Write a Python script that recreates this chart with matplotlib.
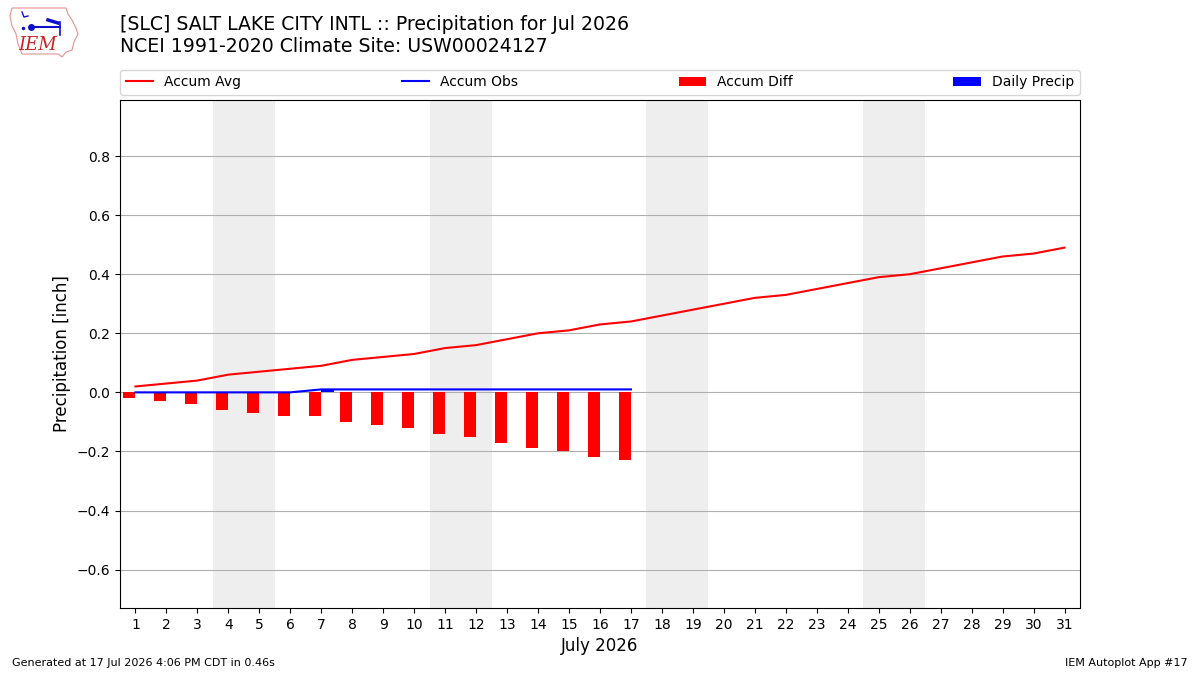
import matplotlib
matplotlib.use("Agg")
import matplotlib.pyplot as plt
from matplotlib.patches import Polygon

days = list(range(1, 32))
accum_avg = [0.02, 0.03, 0.04, 0.06, 0.07, 0.08, 0.09, 0.11, 0.12, 0.13,
             0.15, 0.16, 0.18, 0.20, 0.21, 0.23, 0.24, 0.26, 0.28, 0.30,
             0.32, 0.33, 0.35, 0.37, 0.39, 0.40, 0.42, 0.44, 0.46, 0.47, 0.49]
obs_days = list(range(1, 18))
accum_obs = [0.0, 0.0, 0.0, 0.0, 0.0, 0.0, 0.01, 0.01, 0.01, 0.01,
             0.01, 0.01, 0.01, 0.01, 0.01, 0.01, 0.01]
accum_diff = [-0.02, -0.03, -0.04, -0.06, -0.07, -0.08, -0.08, -0.10, -0.11, -0.12,
              -0.14, -0.15, -0.17, -0.19, -0.20, -0.22, -0.23]
daily_precip = [0.0, 0.0, 0.0, 0.0, 0.0, 0.0, 0.01, 0.0, 0.0, 0.0,
                0.0, 0.0, 0.0, 0.0, 0.0, 0.0, 0.0]
weekends = [(3.5, 5.5), (10.5, 12.5), (17.5, 19.5), (24.5, 26.5)]
yticks = [-0.6, -0.4, -0.2, 0.0, 0.2, 0.4, 0.6, 0.8]

fig = plt.figure(figsize=(12, 6.75), dpi=100)
ax = fig.add_axes([0.1, 0.0993, 0.8, 0.7526])

for a, b in weekends:
    ax.axvspan(a, b, color="#eeeeee", zorder=0, lw=0)

l1, = ax.plot(days, accum_avg, color="r", lw=1.5, label="Accum Avg", zorder=3)
l2, = ax.plot(obs_days, accum_obs, color="b", lw=1.5, label="Accum Obs", zorder=3)
b1 = ax.bar(obs_days, accum_diff, width=-0.4, align="edge", color="r", label="Accum Diff", zorder=2)
b2 = ax.bar(obs_days, daily_precip, width=0.4, align="edge", color="b", label="Daily Precip", zorder=2)

ax.set_xlim(0.5, 31.5)
ax.set_ylim(-0.73, 0.99)
ax.set_xticks(days)
ax.set_yticks(yticks)
ax.set_yticklabels([f"{v:.1f}".replace("-", "\u2212") for v in yticks])
ax.yaxis.grid(True, color="#b0b0b0", lw=0.8, zorder=1)
ax.set_axisbelow(True)
ax.set_xlabel("July 2026", fontsize=12)
ax.set_ylabel("Precipitation [inch]", fontsize=12)
ax.tick_params(labelsize=10)

ax.legend(handles=[l1, l2, b1, b2], loc="lower left", bbox_to_anchor=(0, 1.01, 1, 0.05),
          ncol=4, mode="expand", borderaxespad=0, fontsize=10)

fig.text(120/1200, 1 - 24/675, "[SLC] SALT LAKE CITY INTL :: Precipitation for Jul 2026",
         fontsize=13.6, va="center", ha="left")
fig.text(120/1200, 1 - 47/675, "NCEI 1991-2020 Climate Site: USW00024127",
         fontsize=13.6, va="center", ha="left")
fig.text(0.01, 0.01, "Generated at 17 Jul 2026 4:06 PM CDT in 0.46s", fontsize=8, va="bottom", ha="left")
fig.text(0.99, 0.01, "IEM Autoplot App #17", fontsize=8, va="bottom", ha="right")

# simple logo (pixel coords, y downward flipped)
lax = fig.add_axes([0.0, 0.0, 1.0, 1.0])
lax.set_xlim(0, 1200)
lax.set_ylim(675, 0)
lax.axis("off")
outline = [(12, 8), (66, 8), (68, 14), (72, 20), (76, 28), (78, 34), (74, 42),
           (72, 50), (66, 52), (62, 57), (58, 54), (22, 54), (18, 44), (16, 34),
           (12, 26), (10, 16)]
lax.add_patch(Polygon(outline, closed=True, fill=False, edgecolor="#e89090", lw=0.8))
lax.text(38, 45, "IEM", color="#cc2222", fontsize=13, family="DejaVu Serif",
         style="italic", ha="center", va="center")
lax.plot([31, 60], [27, 27], color="#1010cc", lw=1.5)
lax.plot([31], [27], "o", color="#1010cc", ms=4)
lax.plot([48, 58], [20, 23], color="#1010cc", lw=2.5)
lax.plot([60, 60], [22, 35], color="#1010cc", lw=1.2)
lax.plot([22, 24, 28], [12, 17, 16], color="#1010cc", lw=1)
lax.plot([23], [28], ".", color="#1010cc", ms=3)

fig.savefig("out.png", dpi=100)
